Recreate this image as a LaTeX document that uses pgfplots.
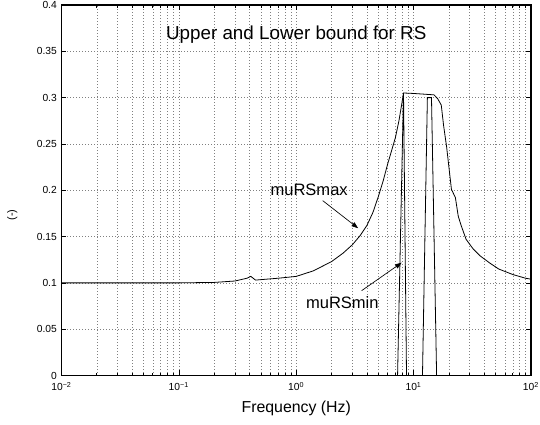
\documentclass[border=0pt]{standalone}
\usepackage{fontspec}
\setmainfont{Liberation Sans}
\usepackage{pgfplots}
\pgfplotsset{compat=1.18}
\usetikzlibrary{arrows.meta}
\begin{document}
\begin{tikzpicture}
\path[use as bounding box] (-46.125pt,-37.125pt) rectangle (358.875pt,281.625pt);
\begin{axis}[
  anchor=south west, at={(0,0)},
  scale only axis, width=352.125pt, height=277.875pt,
  xmode=log, xmin=0.01, xmax=100, ymin=0, ymax=0.4,
  xtick={0.01,0.1,1,10,100},
  xticklabels={10\textsuperscript{−2},10\textsuperscript{−1},10\textsuperscript{0},10\textsuperscript{1},10\textsuperscript{2}},
  minor xtick={0.02,0.03,0.04,0.05,0.06,0.07,0.08,0.09,0.2,0.3,0.4,0.5,0.6,0.7,0.8,0.9,2,3,4,5,6,7,8,9,20,30,40,50,60,70,80,90},
  ytick={0,0.05,0.1,0.15,0.2,0.25,0.3,0.35,0.4},
  yticklabels={0,0.05,0.1,0.15,0.2,0.25,0.3,0.35,0.4},
  xmajorgrids, xminorgrids, ymajorgrids,
  major grid style={black!50, line width=0.4pt, dash pattern=on 0.45pt off 1.8pt},
  minor grid style={black!50, line width=0.4pt, dash pattern=on 0.45pt off 1.8pt},
  tick align=inside,
  major tick length=3.75pt, minor tick length=2.2pt,
  axis line style={line width=0.8pt},
  every tick/.style={black, line width=0.5pt},
  tick label style={font=\fontsize{7.7}{8}\selectfont},
  xticklabel style={yshift=-1.5pt},
  xlabel={Frequency (Hz)}, ylabel={(-)},
  xlabel style={font=\fontsize{11.9}{13}\selectfont, at={(axis description cs:0.5,-0.088)}, anchor=center},
  ylabel style={font=\fontsize{8.2}{9}\selectfont, at={(axis description cs:-0.105,0.433)}, anchor=center},
]
\addplot[black, line width=0.6pt] coordinates {
(0.01,0.1) (0.05,0.1) (0.1,0.1) (0.2,0.1005) (0.3,0.102) (0.38,0.105) (0.41,0.107)
(0.45,0.103) (0.5,0.1035) (0.7,0.105) (1.0,0.107) (1.4,0.113) (2.0,0.123) (2.5,0.132)
(3.0,0.141) (3.5,0.151) (4.0,0.162) (4.5,0.176) (5.0,0.193) (5.5,0.210) (6.0,0.228)
(6.5,0.243) (7.0,0.257) (7.5,0.275) (7.9,0.292) (8.2,0.305) (10,0.3045) (14.9,0.303)
(16,0.299) (17.2,0.292) (18.0,0.27) (19.1,0.247)
(21.0,0.201) (22.7,0.192) (24,0.172) (25.4,0.162) (28,0.147) (32,0.137) (37,0.129)
(45,0.121) (53,0.115) (70,0.109) (90,0.105) (100,0.104)
};
\addplot[black, line width=0.6pt] coordinates {
(0.01,0) (7.3,0) (8.2,0.305) (8.7,0) (11.9,0) (13.1,0.300) (14.2,0.300) (15.7,0) (100,0)
};
\node[font=\fontsize{14.1}{16}\selectfont] at (axis cs:1.0,0.3685) {Upper and Lower bound for RS};
\node[font=\fontsize{12.4}{14}\selectfont] at (axis cs:1.288,0.2003) {muRSmax};
\node[font=\fontsize{12.4}{14}\selectfont] at (axis cs:2.47,0.0786) {muRSmin};
\draw[-{Triangle[length=5pt,width=3.5pt]}, line width=0.5pt] (axis cs:1.68,0.1888) -- (axis cs:3.37,0.159);
\draw[-{Triangle[length=5pt,width=3.5pt]}, line width=0.5pt] (axis cs:3.61,0.0916) -- (axis cs:7.91,0.1218);
\end{axis}
\end{tikzpicture}
\end{document}
